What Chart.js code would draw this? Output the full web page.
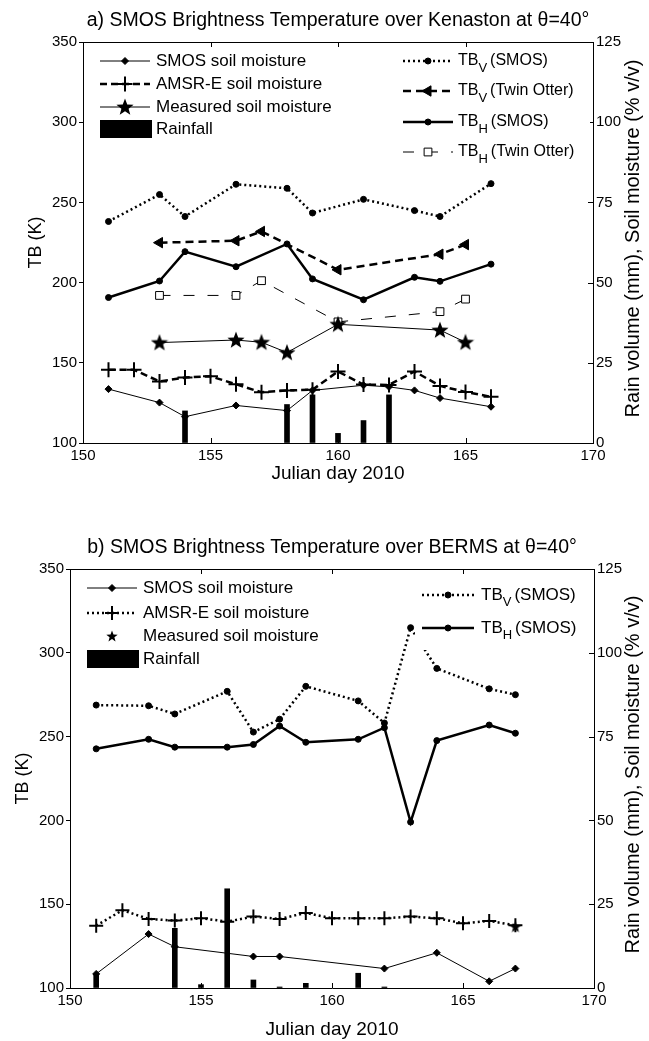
<!DOCTYPE html>
<html>
<head>
<meta charset="utf-8">
<script src="https://cdn.jsdelivr.net/npm/chart.js@4.4.0/dist/chart.umd.min.js"></script>
<style>
  html, body { margin: 0; padding: 0; background: #fff; }
  #wrap { position: relative; width: 649px; height: 1041px; }
  canvas { position: absolute; left: 0; }
</style>
</head>
<body>
<div id="wrap">
  <canvas id="chartA" width="649" height="500" style="top:0px"></canvas>
  <canvas id="chartB" width="649" height="541" style="top:500px"></canvas>
</div>
<script>
const FONT = '"Liberation Sans", Arial, Helvetica, sans-serif';

// ---- a) Kenaston ----
const aSmosDays = [151, 153, 154, 156, 158, 159, 161, 163, 164, 166];
const aTbvSmos = [238.1, 254.9, 241.2, 261.3, 258.8, 243.4, 251.9, 244.9, 241.2, 261.7];
const aTbhSmos = [190.7, 201.0, 219.3, 209.9, 224.1, 202.3, 189.3, 203.3, 200.8, 211.5];
const aOtterDays = [153, 156, 157, 160, 164, 165];
const aTbvOtter = [224.9, 226.1, 231.9, 208.0, 217.7, 223.7];
const aTbhOtter = [192.0, 192.0, 201.2, 175.5, 181.9, 189.7];
const aSmosSmDays = [151, 153, 154, 156, 158, 159, 161, 162, 163, 164, 166];
const aSmosSm = [16.8, 12.6, 8.2, 11.7, 10.1, 16.4, 18.0, 17.5, 16.4, 14.0, 11.3];
const aAmsrDays = [151, 152, 153, 154, 155, 156, 157, 158, 159, 160, 161, 162, 163, 164, 165, 166];
const aAmsr = [22.8, 22.8, 19.2, 20.4, 20.8, 18.3, 15.8, 16.4, 16.6, 22.3, 18.2, 18.1, 22.3, 17.8, 15.9, 14.4];
const aMeasDays = [153, 156, 157, 158, 160, 164, 165];
const aMeas = [31.3, 32.1, 31.4, 28.2, 37.0, 35.2, 31.4];
const aRainDays = [154, 158, 159, 160, 161, 162];
const aRain = [10, 12, 15, 3, 7, 15];

// ---- b) BERMS ----
const bSmosDays = [151, 153, 154, 156, 157, 158, 159, 161, 162, 163, 164, 166, 167];
const bTbvSmos = [268.8, 268.4, 263.5, 277.0, 252.7, 260.4, 280.0, 271.3, 258.1, 315.0, 290.7, 278.5, 275.0];
const bTbhSmos = [242.7, 248.4, 243.7, 243.7, 245.3, 256.3, 246.6, 248.4, 255.3, 199.0, 247.6, 256.9, 252.0];
const bAmsrDays = [151, 152, 153, 154, 155, 156, 157, 158, 159, 160, 161, 162, 163, 164, 165, 166, 167];
const bAmsr = [18.6, 23.2, 20.6, 20.1, 20.8, 19.8, 21.3, 20.6, 22.4, 20.8, 20.8, 20.8, 21.3, 20.8, 19.3, 20.0, 18.7];
const bSmosSmDays = [151, 153, 154, 157, 158, 162, 164, 166, 167];
const bSmosSm = [4.2, 16.1, 12.3, 9.4, 9.4, 5.8, 10.5, 2.0, 5.8];
const bMeasDays = [167];
const bMeas = [18.3];
const bRainDays = [151, 154, 155, 156, 157, 158, 159, 161, 162];
const bRain = [4.2, 17.8, 1.0, 29.6, 2.4, 0.3, 1.4, 4.4, 0.3];

const xTicks = [150, 155, 160, 165, 170];

function pts(days, vals) {
  return days.map((d, i) => ({ x: d, y: vals[i] }));
}

// filled five point star used as marker
function starImg(size) {
  const c = document.createElement('canvas');
  c.width = size; c.height = size;
  const g = c.getContext('2d');
  g.fillStyle = '#000';
  g.beginPath();
  for (let i = 0; i < 10; i++) {
    const r = i % 2 ? size * 0.21 : size * 0.5;
    const ang = -Math.PI / 2 + i * Math.PI / 5;
    const px = size / 2 + r * Math.cos(ang), py = size / 2 + 0.55 + r * Math.sin(ang);
    if (i === 0) g.moveTo(px, py); else g.lineTo(px, py);
  }
  g.closePath();
  g.fill();
  return c;
}
const bigStar = starImg(18);
const smallStar = starImg(12);

// line styles (shared by datasets and legend samples)
const sSmosSm = { width: 1, dash: [], pointStyle: 'rectRot', radius: 3.5 };
const sAmsrDash = { width: 2.5, dash: [7, 4], pointStyle: 'cross', radius: 7.5, pbw: 2 };
const sAmsrDot = { width: 2.5, dash: [2, 3], pointStyle: 'cross', radius: 7, pbw: 2 };
const sMeasA = { width: 1, dash: [], img: bigStar };
const sMeasB = { width: 0, dash: [], img: smallStar, noLine: true };
const sTbvSmos = { width: 2.5, dash: [2, 3], pointStyle: 'circle', radius: 3 };
const sTbvOtter = { width: 2.5, dash: [8, 5], pointStyle: 'triangle', radius: 6, rotation: -90 };
const sTbhSmos = { width: 2.5, dash: [], pointStyle: 'circle', radius: 3 };
const sTbhOtter = { width: 1, dash: [11, 13], pointStyle: 'rect', radius: 5.5, open: true };

function lineSet(days, vals, s, axis) {
  return {
    type: 'line',
    data: pts(days, vals),
    yAxisID: axis,
    borderColor: '#000',
    borderWidth: s.width,
    borderDash: s.dash,
    showLine: !s.noLine,
    pointStyle: s.img || s.pointStyle,
    pointRadius: s.radius || 4,
    pointRotation: s.rotation || 0,
    pointBackgroundColor: s.open ? '#fff' : '#000',
    pointBorderColor: '#000',
    pointBorderWidth: s.pbw || 1,
    fill: false,
    tension: 0,
    order: 1
  };
}

function rainSet(days, vals) {
  return {
    type: 'bar',
    data: pts(days, vals),
    yAxisID: 'y1',
    backgroundColor: '#000',
    barThickness: 5,
    order: 10
  };
}

function drawMarker(ctx, s, x, y) {
  if (s.img) {
    ctx.drawImage(s.img, x - s.img.width / 2, y - s.img.height / 2);
    return;
  }
  ctx.save();
  ctx.fillStyle = s.open ? '#fff' : '#000';
  ctx.strokeStyle = '#000';
  ctx.lineWidth = s.pbw || 1;
  ctx.setLineDash([]);
  Chart.helpers.drawPoint(ctx, {
    pointStyle: s.pointStyle, radius: s.radius, rotation: s.rotation || 0, borderWidth: s.pbw || 1
  }, x, y);
  ctx.restore();
}

function drawLegend(ctx, lg) {
  const fs = lg.fs;
  ctx.save();
  ctx.fillStyle = '#fff';
  ctx.fillRect(lg.box[0], lg.box[1], lg.box[2], lg.box[3]);
  ctx.textBaseline = 'middle';
  lg.items.forEach(it => {
    const y = it.y, x0 = lg.x0, x1 = lg.x1;
    if (it.bar) {
      ctx.fillStyle = '#000';
      ctx.fillRect(x0, y - 9, x1 - x0 + 2, 18);
    } else {
      if (!it.s.noLine) {
        ctx.strokeStyle = '#000';
        ctx.lineWidth = it.s.width;
        ctx.setLineDash(it.s.dash);
        ctx.beginPath();
        ctx.moveTo(x0, y); ctx.lineTo(x1, y);
        ctx.stroke();
        ctx.setLineDash([]);
      }
      drawMarker(ctx, it.s, (x0 + x1) / 2, y);
    }
    ctx.fillStyle = '#000';
    let tx = lg.tx;
    ctx.font = `${fs}px ${FONT}`;
    ctx.fillText(it.text, tx, y);
    if (it.sub) {
      tx += ctx.measureText(it.text).width;
      ctx.font = `13px ${FONT}`;
      ctx.fillText(it.sub, tx, y + 7);
      tx += ctx.measureText(it.sub).width;
      ctx.font = `${fs}px ${FONT}`;
      ctx.fillText(it.rest, tx + 3, y);
    }
  });
  ctx.restore();
}

function makePanel(id, p) {
  const W = 649;
  const deco = {
    id: 'deco',
    afterDraw(chart) {
      const ctx = chart.ctx, a = chart.chartArea;
      const xs = chart.scales.x, yr = chart.scales.y1;
      ctx.save();
      ctx.strokeStyle = '#000';
      ctx.lineWidth = 1;
      ctx.beginPath();
      ctx.moveTo(a.left, a.top + 0.5);
      ctx.lineTo(a.right, a.top + 0.5);
      xs.ticks.forEach(t => {
        const x = Math.round(xs.getPixelForValue(t.value)) + 0.5;
        ctx.moveTo(x, a.bottom); ctx.lineTo(x, a.bottom - 5);
        ctx.moveTo(x, a.top); ctx.lineTo(x, a.top + 5);
      });
      yr.ticks.forEach(t => {
        const y = Math.round(yr.getPixelForValue(t.value)) + 0.5;
        ctx.moveTo(a.right, y); ctx.lineTo(a.right - 5, y);
      });
      ctx.stroke();
      ctx.restore();

      p.legends.forEach(lg => drawLegend(ctx, lg));

      const cx = (a.left + a.right) / 2, cy = (a.top + a.bottom) / 2;
      ctx.save();
      ctx.fillStyle = '#000';
      ctx.textAlign = 'center';
      ctx.textBaseline = 'middle';
      ctx.font = `19.5px ${FONT}`;
      ctx.fillText(p.title, cx, p.titleY);
      ctx.font = `19px ${FONT}`;
      ctx.fillText('Julian day 2010', cx, p.xlabelY);
      ctx.font = `18px ${FONT}`;
      ctx.translate(p.ylabelX, cy);
      ctx.rotate(-Math.PI / 2);
      ctx.fillText('TB (K)', 0, 0);
      ctx.restore();
      ctx.save();
      ctx.fillStyle = '#000';
      ctx.textAlign = 'center';
      ctx.textBaseline = 'middle';
      ctx.font = `20px ${FONT}`;
      ctx.translate(633, cy - 4);
      ctx.rotate(-Math.PI / 2);
      ctx.fillText('Rain volume (mm), Soil moisture (% v/v)', 0, 0);
      ctx.restore();
    }
  };

  const tickFont = { family: FONT, size: 15 };
  return new Chart(document.getElementById(id), {
    type: 'line',
    data: { datasets: p.datasets },
    options: {
      responsive: false,
      animation: false,
      events: [],
      devicePixelRatio: 1,
      layout: { padding: { top: p.top, left: 0, right: 0, bottom: 0 } },
      plugins: { legend: { display: false }, tooltip: { enabled: false }, title: { display: false } },
      scales: {
        x: {
          type: 'linear', min: 150, max: 170, offset: false,
          afterBuildTicks: s => { s.ticks = xTicks.map(v => ({ value: v })); },
          ticks: { color: '#000', font: tickFont, padding: 4, maxRotation: 0, autoSkip: false },
          grid: { offset: false, drawOnChartArea: false, drawTicks: false },
          border: { color: '#000', width: 1 },
          afterFit: s => { s.height = p.H - p.bottom; }
        },
        y: {
          type: 'linear', position: 'left', min: 100, max: 350,
          ticks: { stepSize: 50, color: '#000', font: tickFont, padding: 2 },
          grid: { drawOnChartArea: false, drawTicks: true, tickLength: 4, color: '#000' },
          border: { color: '#000', width: 1 },
          afterFit: s => { s.width = p.left; }
        },
        y1: {
          type: 'linear', position: 'right', min: 0, max: 125,
          ticks: { stepSize: 25, color: '#000', font: tickFont, padding: 3 },
          grid: { drawOnChartArea: false, drawTicks: false },
          border: { color: '#000', width: 1 },
          afterFit: s => { s.width = W - p.right; }
        }
      }
    },
    plugins: [deco]
  });
}

makePanel('chartA', {
  H: 500, left: 83, right: 593, top: 42, bottom: 443,
  title: 'a) SMOS Brightness Temperature over Kenaston at \u03b8=40\u00b0',
  titleY: 21, xlabelY: 474, ylabelX: 36,
  datasets: [
    rainSet(aRainDays, aRain),
    lineSet(aSmosSmDays, aSmosSm, sSmosSm, 'y1'),
    lineSet(aAmsrDays, aAmsr, sAmsrDash, 'y1'),
    lineSet(aMeasDays, aMeas, sMeasA, 'y1'),
    lineSet(aSmosDays, aTbvSmos, sTbvSmos, 'y'),
    lineSet(aOtterDays, aTbvOtter, sTbvOtter, 'y'),
    lineSet(aSmosDays, aTbhSmos, sTbhSmos, 'y'),
    lineSet(aOtterDays, aTbhOtter, sTbhOtter, 'y')
  ],
  legends: [
    { fs: 17, box: [88, 48, 260, 95], x0: 100, x1: 150, tx: 156, items: [
      { y: 61, s: sSmosSm, text: 'SMOS soil moisture' },
      { y: 84, s: sAmsrDash, text: 'AMSR-E soil moisture' },
      { y: 107, s: sMeasA, text: 'Measured soil moisture' },
      { y: 129, bar: true, text: 'Rainfall' }
    ] },
    { fs: 16, box: [395, 48, 195, 118], x0: 403, x1: 453, tx: 458, items: [
      { y: 61, s: sTbvSmos, text: 'TB', sub: 'V', rest: '(SMOS)' },
      { y: 91, s: sTbvOtter, text: 'TB', sub: 'V', rest: '(Twin Otter)' },
      { y: 122, s: sTbhSmos, text: 'TB', sub: 'H', rest: '(SMOS)' },
      { y: 152, s: sTbhOtter, text: 'TB', sub: 'H', rest: '(Twin Otter)' }
    ] }
  ]
});

makePanel('chartB', {
  H: 541, left: 70, right: 594, top: 69, bottom: 488,
  title: 'b) SMOS Brightness Temperature over BERMS at \u03b8=40\u00b0',
  titleY: 48, xlabelY: 530, ylabelX: 23,
  datasets: [
    rainSet(bRainDays, bRain),
    lineSet(bSmosSmDays, bSmosSm, sSmosSm, 'y1'),
    lineSet(bAmsrDays, bAmsr, sAmsrDot, 'y1'),
    lineSet(bMeasDays, bMeas, sMeasB, 'y1'),
    lineSet(bSmosDays, bTbvSmos, sTbvSmos, 'y'),
    lineSet(bSmosDays, bTbhSmos, sTbhSmos, 'y')
  ],
  legends: [
    { fs: 17, box: [75, 75, 260, 95], x0: 87, x1: 137, tx: 143, items: [
      { y: 88, s: sSmosSm, text: 'SMOS soil moisture' },
      { y: 113, s: sAmsrDot, text: 'AMSR-E soil moisture' },
      { y: 136, s: sMeasB, text: 'Measured soil moisture' },
      { y: 159, bar: true, text: 'Rainfall' }
    ] },
    { fs: 17, box: [415, 75, 175, 75], x0: 422, x1: 474, tx: 481, items: [
      { y: 95, s: sTbvSmos, text: 'TB', sub: 'V', rest: '(SMOS)' },
      { y: 128, s: sTbhSmos, text: 'TB', sub: 'H', rest: '(SMOS)' }
    ] }
  ]
});
</script>
</body>
</html>
